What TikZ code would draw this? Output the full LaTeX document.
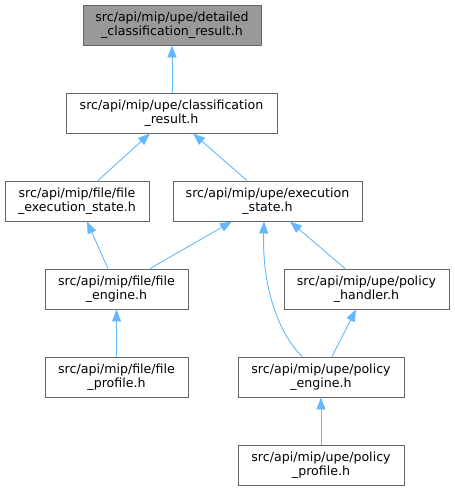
\documentclass[tikz,border=0pt]{standalone}
\usepackage{fontspec}
\setmainfont{DejaVu Sans}
\usetikzlibrary{arrows.meta,calc}
\definecolor{edgeblue}{HTML}{63B8FF}
\definecolor{boxgray}{HTML}{666666}
\definecolor{fillgray}{HTML}{999999}
\begin{document}
\begin{tikzpicture}[x=1pt,y=-1pt,
  box/.style={draw=boxgray,line width=0.9pt,fill=white,rectangle,inner sep=0pt,minimum height=40pt,
    align=center,font=\fontsize{12.6}{14}\selectfont,text=black},
  edge/.style={draw=edgeblue,line width=0.9pt,-{Triangle[length=12pt,width=9pt]}}]
\useasboundingbox (0,0) rectangle (455,491);
\node[box,fill=fillgray,minimum width=178pt] (n0) at (172,25) {src/api/mip/upe/detailed\\\_classification\_result.h};
\node[box,minimum width=211pt] (n1) at (171.5,113) {src/api/mip/upe/classification\\\_result.h};
\node[box,minimum width=144pt] (n2) at (77,201) {src/api/mip/file/file\\\_execution\_state.h};
\node[box,minimum width=189pt] (n3) at (267.5,201) {src/api/mip/upe/execution\\\_state.h};
\node[box,minimum width=143pt] (n4) at (116.5,289) {src/api/mip/file/file\\\_engine.h};
\node[box,minimum width=165pt] (n5) at (366.5,289) {src/api/mip/upe/policy\\\_handler.h};
\node[box,minimum width=143pt] (n6) at (116.5,377) {src/api/mip/file/file\\\_profile.h};
\node[box,minimum width=166pt] (n7) at (321,377) {src/api/mip/upe/policy\\\_engine.h};
\node[box,minimum width=166pt] (n8) at (321,465) {src/api/mip/upe/policy\\\_profile.h};
\draw[edge] ([xshift=0.5pt]n1.north) -- (n0.south);
\draw[edge] ([xshift=21pt]n2.north) -- ([xshift=-21.5pt]n1.south);
\draw[edge] ([xshift=-20.5pt]n3.north) -- ([xshift=21.5pt]n1.south);
\draw[edge] ([xshift=-8.5pt]n4.north) -- ([xshift=10pt]n2.south);
\draw[edge] ([xshift=33.5pt]n4.north) -- ([xshift=-35.5pt]n3.south);
\draw[edge] ([xshift=-19pt]n7.north) .. controls +(-22,-22) and +(-2,69) .. ([xshift=-3.5pt]n3.south);
\draw[edge] ([xshift=-21.5pt]n5.north) -- ([xshift=22.5pt]n3.south);
\draw[edge] ([xshift=11pt]n7.north) -- ([xshift=-10.5pt]n5.south);
\draw[edge] (n6.north) -- (n4.south);
\draw[edge] (n8.north) -- (n7.south);
\end{tikzpicture}
\end{document}
